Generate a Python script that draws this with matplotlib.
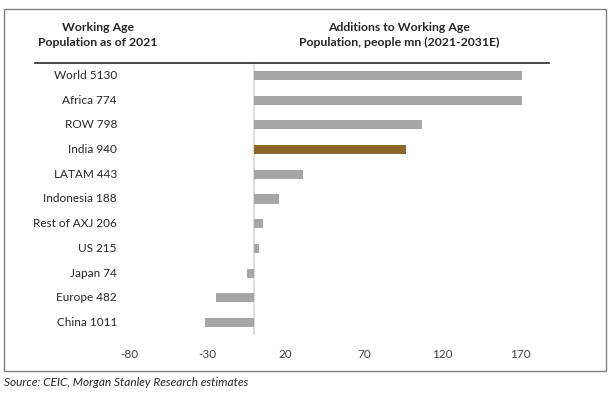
import matplotlib.pyplot as plt
from matplotlib.patches import Rectangle
from matplotlib.lines import Line2D
from matplotlib.transforms import blended_transform_factory

plt.rcParams['font.family'] = ['Lato', 'DejaVu Sans']

# data
regions = ['World 5130', 'Africa 774', 'ROW 798', 'India 940', 'LATAM 443',
           'Indonesia 188', 'Rest of AXJ 206', 'US 215', 'Japan 74',
           'Europe 482', 'China 1011']
additions = [171, 171, 107, 97, 31, 16, 5.5, 3, -4.7, -24.5, -31.6]
highlight = 'India 940'
xticks = [-80, -30, 20, 70, 120, 170]

W, H = 611, 399
fig = plt.figure(figsize=(W / 100, H / 100), dpi=100)

# plot area in pixel coords
left, right, top, bottom = 129, 549, 63, 335
ax = fig.add_axes([left / W, 1 - bottom / H, (right - left) / W, (bottom - top) / H])

colors = ['#8c6628' if r == highlight else '#a6a6a6' for r in regions]
ypos = list(range(len(regions)))
ax.barh(ypos, additions, height=0.37, color=colors, zorder=2)
ax.set_ylim(len(regions) - 0.5, -0.5)
ax.set_xlim(-80, 188)
ax.set_xticks(xticks)
ax.set_xticklabels([str(t) for t in xticks], fontsize=8.5, color='#404040')
ax.tick_params(axis='x', length=0, pad=10)
ax.set_yticks(ypos)
ax.set_yticklabels([])
ax.tick_params(axis='y', length=0)
for s in ax.spines.values():
    s.set_visible(False)
ax.axvline(0, color='#d9d9d9', lw=1.3, zorder=1)

# row labels, right aligned in the left column
trans = blended_transform_factory(fig.transFigure, ax.transData)
for y, lab in zip(ypos, regions):
    ax.text(117 / W, y, lab, transform=trans, ha='right', va='center',
            fontsize=8.5, color='#262626')

# headers
fig.text(98 / W, 1 - 35 / H, 'Working Age\nPopulation as of 2021', ha='center', va='center',
         fontsize=8.8, fontweight='bold', color='#262626', linespacing=1.45)
fig.text(399 / W, 1 - 35 / H, 'Additions to Working Age\nPopulation, people mn (2021-2031E)',
         ha='center', va='center', fontsize=8.8, fontweight='bold', color='#262626', linespacing=1.45)

# header rule and frame
fig.add_artist(Line2D([35 / W, 549 / W], [1 - 63 / H, 1 - 63 / H], transform=fig.transFigure,
                      color='#262626', lw=1.2))
fig.add_artist(Rectangle((4 / W, 1 - 371 / H), 602 / W, 362 / H, transform=fig.transFigure,
                         fill=False, edgecolor='#808080', lw=1))

fig.text(4 / W, 1 - 382 / H, 'Source: CEIC, Morgan Stanley Research estimates', ha='left',
         va='center', fontsize=8.6, style='italic', color='#262626')

fig.savefig('out.png', dpi=100)
